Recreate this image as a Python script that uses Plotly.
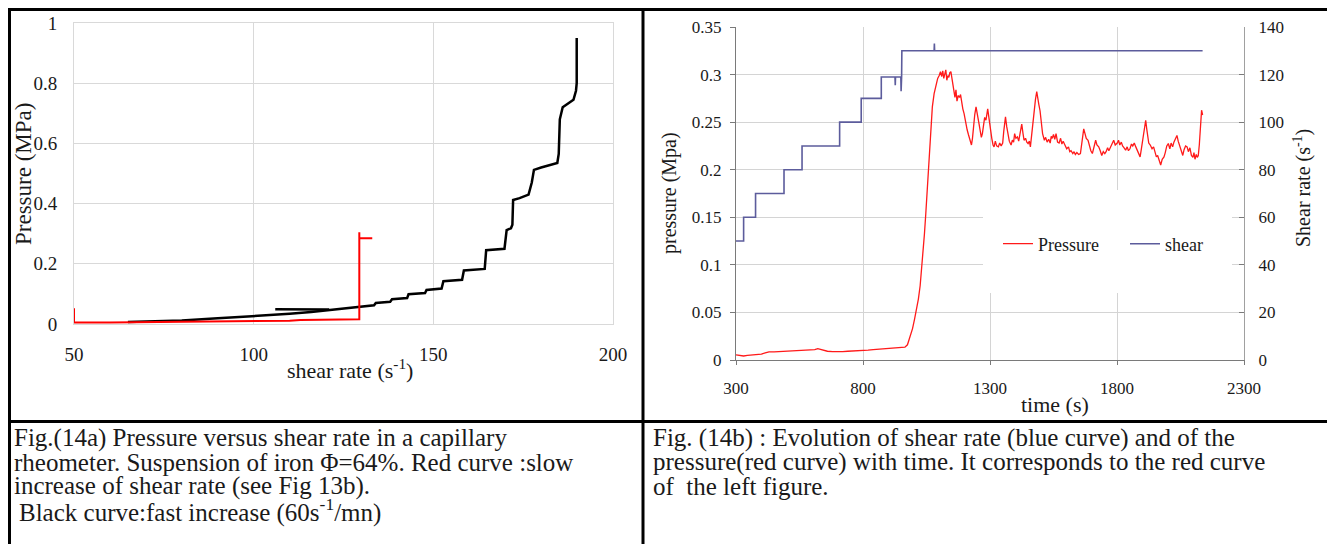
import plotly.graph_objects as go

# Fig 14a - pressure vs shear rate (capillary rheometer)
black_shear = [106, 121, None,
               65, 72, 80, 90, 100, 110, 116, 120, 125, 129, 133.5, 134, 138, 138.5,
               142.7, 143.1, 147.7, 148.1, 152.3, 152.8, 158, 158.5, 164.3, 164.7,
               169.8, 170.4, 171.6, 172, 172.2, 174, 176.5, 177.4, 178, 180, 184.5,
               184.9, 185.2, 186, 187.5, 189, 189.7, 189.9, 189.9]
black_pressure = [0.049, 0.048, None,
                  0.007, 0.009, 0.012, 0.019, 0.026, 0.034, 0.040, 0.045, 0.051, 0.056,
                  0.062, 0.070, 0.074, 0.082, 0.086, 0.099, 0.103, 0.113, 0.118, 0.142,
                  0.147, 0.178, 0.183, 0.245, 0.250, 0.312, 0.318, 0.330, 0.412, 0.418,
                  0.430, 0.470, 0.512, 0.520, 0.535, 0.565, 0.680, 0.720, 0.733, 0.745,
                  0.775, 0.800, 0.950]

red_shear = [50, 50, 60, 70, 80, 88, 91, 95, 100, 105, 110, 113, 118, 122,
             129.4, 129.4, 129.4, 133]
red_pressure = [0.052, 0.005, 0.005, 0.006, 0.006, 0.007, 0.009, 0.009, 0.009,
                0.010, 0.011, 0.013, 0.014, 0.016, 0.016, 0.305, 0.285, 0.285]

# Fig 14b - time evolution
time_s = [300, 315, 330, 345, 360, 380, 400, 415, 430, 450, 470, 490, 510, 530, 550,
          570, 590, 610, 622, 632, 645, 660, 680, 700, 720, 740, 760, 780, 800, 820,
          840, 860, 880, 900, 920, 940, 955, 965, 975, 985, 995, 1003, 1010, 1018,
          1025, 1031, 1037, 1042, 1047, 1052, 1057, 1062, 1067, 1073, 1080, 1087,
          1094, 1100, 1105, 1110, 1114, 1118, 1122, 1126, 1130, 1134, 1138, 1142,
          1146, 1150, 1154, 1158, 1162, 1166, 1170, 1175, 1180, 1184, 1188, 1193,
          1198, 1204, 1210, 1215, 1220, 1227, 1231, 1235, 1240, 1245, 1249, 1253,
          1257, 1262, 1266, 1270, 1275, 1279, 1284, 1288, 1291, 1295, 1299, 1302,
          1307, 1312, 1316, 1321, 1326, 1333, 1338, 1344, 1350, 1354, 1358, 1361,
          1366, 1371, 1376, 1383, 1388, 1393, 1397, 1402, 1408, 1413, 1418, 1422,
          1425, 1430, 1434, 1440, 1445, 1450, 1455, 1459, 1463, 1467, 1471, 1475,
          1479, 1484, 1488, 1492, 1497, 1502, 1507, 1514, 1519, 1525, 1531, 1537,
          1541, 1545, 1550, 1555, 1560, 1566, 1572, 1578, 1583, 1588, 1595, 1602,
          1609, 1614, 1619, 1626, 1631, 1636, 1642, 1649, 1656, 1660, 1664, 1669,
          1674, 1679, 1686, 1691, 1697, 1703, 1708, 1712, 1716, 1721, 1728, 1734,
          1740, 1746, 1752, 1757, 1763, 1768, 1774, 1780, 1787, 1793, 1801, 1806,
          1811, 1817, 1822, 1828, 1834, 1840, 1845, 1851, 1857, 1862, 1868, 1874,
          1880, 1886, 1891, 1896, 1901, 1905, 1909, 1913, 1917, 1921, 1925, 1931,
          1938, 1944, 1950, 1955, 1960, 1966, 1972, 1978, 1985, 1990, 1996, 2002,
          2008, 2013, 2019, 2024, 2030, 2036, 2041, 2048, 2053, 2059, 2064, 2070,
          2076, 2081, 2087, 2093, 2099, 2103, 2107, 2112, 2116, 2120, 2124, 2127,
          2130, 2133, 2137]
pressure_mpa = [0.0055, 0.0045, 0.0042, 0.0048, 0.0052, 0.0056, 0.0062, 0.0075, 0.0086,
                0.0085, 0.0088, 0.0087, 0.0090, 0.0092, 0.0093, 0.0095, 0.0100, 0.0108,
                0.0120, 0.0114, 0.0100, 0.0092, 0.0088, 0.0086, 0.0088, 0.0092, 0.0094,
                0.0095, 0.0096, 0.0103, 0.0108, 0.0112, 0.0118, 0.0122, 0.0124, 0.0125,
                0.0128, 0.0135, 0.0160, 0.0240, 0.0330, 0.0430, 0.0520, 0.0640, 0.0780,
                0.0950, 0.1130, 0.1330, 0.1530, 0.1760, 0.2000, 0.2250, 0.2480, 0.2660,
                0.2800, 0.2900, 0.2960, 0.2990, 0.3030, 0.2980, 0.3040, 0.2960, 0.3010,
                0.3050, 0.2940, 0.2990, 0.2970, 0.3020, 0.3030, 0.2960, 0.2850, 0.2810,
                0.2760, 0.2840, 0.2720, 0.2780, 0.2760, 0.2790, 0.2700, 0.2640, 0.2590,
                0.2480, 0.2420, 0.2370, 0.2320, 0.2260, 0.2330, 0.2450, 0.2580, 0.2660,
                0.2580, 0.2520, 0.2480, 0.2400, 0.2340, 0.2380, 0.2490, 0.2550, 0.2520,
                0.2600, 0.2640, 0.2560, 0.2460, 0.2410, 0.2330, 0.2260, 0.2240, 0.2300,
                0.2250, 0.2240, 0.2280, 0.2250, 0.2280, 0.2400, 0.2520, 0.2555, 0.2450,
                0.2380, 0.2300, 0.2260, 0.2310, 0.2290, 0.2380, 0.2330, 0.2345, 0.2300,
                0.2390, 0.2440, 0.2480, 0.2380, 0.2310, 0.2330, 0.2290, 0.2275, 0.2300,
                0.2240, 0.2350, 0.2450, 0.2555, 0.2650, 0.2740, 0.2820, 0.2740, 0.2690,
                0.2620, 0.2480, 0.2380, 0.2310, 0.2340, 0.2290, 0.2320, 0.2280, 0.2350,
                0.2330, 0.2370, 0.2320, 0.2380, 0.2290, 0.2280, 0.2330, 0.2270, 0.2300,
                0.2250, 0.2220, 0.2240, 0.2190, 0.2200, 0.2170, 0.2190, 0.2160, 0.2180,
                0.2160, 0.2170, 0.2250, 0.2360, 0.2430, 0.2380, 0.2330, 0.2310, 0.2250,
                0.2200, 0.2170, 0.2230, 0.2290, 0.2310, 0.2260, 0.2240, 0.2200, 0.2150,
                0.2190, 0.2170, 0.2190, 0.2230, 0.2200, 0.2240, 0.2270, 0.2310, 0.2260,
                0.2280, 0.2310, 0.2260, 0.2290, 0.2250, 0.2230, 0.2205, 0.2240, 0.2200,
                0.2220, 0.2270, 0.2250, 0.2280, 0.2240, 0.2205, 0.2170, 0.2135, 0.2220,
                0.2310, 0.2400, 0.2480, 0.2520, 0.2430, 0.2340, 0.2280, 0.2260, 0.2220,
                0.2240, 0.2170, 0.2135, 0.2150, 0.2090, 0.2050, 0.2110, 0.2135, 0.2180,
                0.2250, 0.2275, 0.2220, 0.2280, 0.2240, 0.2290, 0.2320, 0.2360, 0.2300,
                0.2240, 0.2180, 0.2150, 0.2210, 0.2250, 0.2240, 0.2190, 0.2230, 0.2150,
                0.2130, 0.2180, 0.2110, 0.2160, 0.2130, 0.2150, 0.2260, 0.2380, 0.2500,
                0.2625, 0.2575]

shear_time = [300, 330, 330, 377, 377, 489, 489, 560, 560, 708, 708, 793, 793, 872, 872,
              926, 927, 928, 949, 950, 952, 953, 1080, 1081, 1082, 2137]
shear_rate = [50, 50, 60, 60, 70, 70, 80, 80, 90, 90, 100, 100, 110, 110, 119,
              119, 115.5, 119, 119, 113, 119, 130, 130, 133, 130, 130]

caption_left = ["Fig.(14a) Pressure versus shear rate in a capillary",
                "rheometer. Suspension of iron Φ=64%. Red curve :slow",
                "increase of shear rate (see Fig 13b).",
                "Black curve:fast increase (60s<sup>-1</sup>/mn)"]
caption_right = ["Fig. (14b) : Evolution of shear rate (blue curve) and of the",
                 "pressure(red curve) with time. It corresponds to the red curve",
                 "of  the left figure."]

# the html page has an 8px body margin, so the figure starts 8px in
OFF = 8
W, H = 1335 - OFF, 544 - OFF
FONT = "Liberation Serif"


def px(x):
    return (x - OFF) / W


def py(y):
    return 1 - (y - OFF) / H


fig = go.Figure()

fig.add_trace(go.Scatter(x=black_shear, y=black_pressure, mode="lines",
                         line=dict(color="black", width=2.5),
                         xaxis="x", yaxis="y", showlegend=False))
fig.add_trace(go.Scatter(x=red_shear, y=red_pressure, mode="lines",
                         line=dict(color="#ff0000", width=2),
                         xaxis="x", yaxis="y", showlegend=False))
fig.add_trace(go.Scatter(x=time_s, y=pressure_mpa, mode="lines", name="Pressure",
                         line=dict(color="#ff1a1a", width=1.3),
                         xaxis="x2", yaxis="y2"))
fig.add_trace(go.Scatter(x=shear_time, y=shear_rate, mode="lines", name="shear",
                         line=dict(color="#5c5c9c", width=1.6),
                         xaxis="x2", yaxis="y3"))

tick_left = dict(family=FONT, size=19, color="#1a1a1a")
tick_right = dict(family=FONT, size=17, color="#1a1a1a")

fig.update_layout(
    width=W, height=H,
    margin=dict(l=0, r=0, t=0, b=0, autoexpand=False),
    paper_bgcolor="white", plot_bgcolor="white",
    font=dict(family=FONT, color="#1a1a1a"),
    xaxis=dict(domain=[px(74), px(613)], range=[50, 200], dtick=50, anchor="y",
               showgrid=True, gridcolor="#d9d9d9", showline=True, linecolor="#d9d9d9",
               mirror=True, zeroline=False, ticks="", tickfont=tick_left,
               ticklabelstandoff=13),
    yaxis=dict(domain=[py(324), py(23)], range=[0, 1], dtick=0.2, anchor="x",
               showgrid=True, gridcolor="#d9d9d9", showline=True, linecolor="#d9d9d9",
               mirror=True, zeroline=False, ticks="", tickfont=tick_left,
               ticklabelstandoff=12),
    xaxis2=dict(domain=[px(736), px(1244)], range=[300, 2300], tick0=300, dtick=500,
                anchor="y2", showgrid=True, gridcolor="#d4d4d4", showline=True,
                linecolor="#7a7a7a", zeroline=False, ticks="outside", ticklen=4,
                tickcolor="#7a7a7a", tickfont=tick_right, ticklabelstandoff=9),
    yaxis2=dict(domain=[py(360), py(27)], range=[0, 0.35], dtick=0.05, anchor="x2",
                showgrid=True, gridcolor="#d4d4d4", showline=True, linecolor="#7a7a7a",
                zeroline=False, ticks="outside", ticklen=5, tickcolor="#7a7a7a",
                tickfont=tick_right, ticklabelstandoff=5),
    yaxis3=dict(overlaying="y2", side="right", anchor="x2", range=[0, 140], dtick=20,
                showgrid=False, showline=True, linecolor="#a0a0a0", zeroline=False,
                ticks="inside", ticklen=5, tickcolor="#7a7a7a", tickfont=tick_right,
                ticklabelstandoff=10),
    legend=dict(orientation="h", x=px(998), xanchor="left", y=py(244), yanchor="middle",
                font=dict(family=FONT, size=18, color="#1a1a1a"), bgcolor="rgba(0,0,0,0)",
                entrywidth=82, entrywidthmode="pixels", itemwidth=30),
)

# white box behind the legend (hides gridlines like the Excel legend)
fig.add_shape(type="rect", xref="paper", yref="paper",
              x0=px(983), x1=px(1232), y0=py(293), y1=py(190),
              fillcolor="white", line=dict(width=0), layer="above")

# axis titles
titles = [
    dict(text="Pressure (MPa)", x=px(24), y=py(174), textangle=-90, size=23),
    dict(text="shear rate (s<sup>-1</sup>)", x=px(350), y=py(369), textangle=0, size=22),
    dict(text="pressure (Mpa)", x=px(669), y=py(193), textangle=-90, size=20),
    dict(text="Shear rate (s<sup>-1</sup>)", x=px(1303), y=py(188), textangle=-90, size=20),
    dict(text="time (s)", x=px(1055), y=py(405), textangle=0, size=22),
]
for t in titles:
    fig.add_annotation(text=t["text"], x=t["x"], y=t["y"], xref="paper", yref="paper",
                       textangle=t["textangle"], showarrow=False,
                       xanchor="center", yanchor="middle",
                       font=dict(family=FONT, size=t["size"], color="#1a1a1a"))

# captions
for i, line in enumerate(caption_left):
    fig.add_annotation(text=line, x=px(12 if i < 3 else 17), y=py(438 + 24 * i),
                       xref="paper", yref="paper", showarrow=False,
                       xanchor="left", yanchor="middle",
                       font=dict(family=FONT, size=25, color="#1a1a1a"))
for i, line in enumerate(caption_right):
    fig.add_annotation(text=line, x=px(651), y=py(438 + 24 * i),
                       xref="paper", yref="paper", showarrow=False,
                       xanchor="left", yanchor="middle",
                       font=dict(family=FONT, size=25, color="#1a1a1a"))

# table borders (left/top edge lines sit just inside the figure)
border = dict(color="black", width=3)
for x0, y0, x1, y1 in [(9.5, 0, 9.5, 544), (1331, 0, 1331, 544), (9.5, 9.5, 1331, 9.5),
                       (643, 9.5, 643, 544), (9.5, 421.5, 1331, 421.5)]:
    fig.add_shape(type="line", xref="paper", yref="paper",
                  x0=px(x0), x1=px(x1), y0=py(y0), y1=py(y1), line=border)

fig.write_html("out.html")
